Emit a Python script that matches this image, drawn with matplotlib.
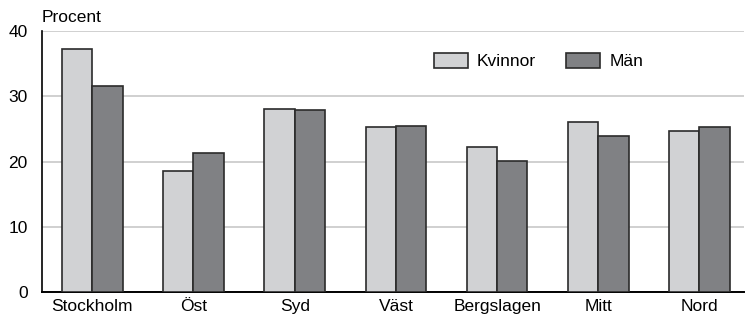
import numpy as np
import matplotlib
matplotlib.use("Agg")
import matplotlib.pyplot as plt

# andel i procent per region
regioner = ["Stockholm", "Öst", "Syd", "Väst", "Bergslagen", "Mitt", "Nord"]
kvinnor = [37.2, 18.5, 28.0, 25.2, 22.2, 26.0, 24.7]
man = [31.6, 21.3, 27.9, 25.4, 20.1, 23.9, 25.2]

plt.rcParams['font.family'] = ['Liberation Sans', 'DejaVu Sans']
plt.rcParams['font.size'] = 12

fig = plt.figure(figsize=(7.46, 3.17), dpi=100)
ax = fig.add_axes([41.7 / 746, 1 - 292.3 / 317, (744 - 41.7) / 746, (292.3 - 30.7) / 317])

x = np.arange(len(regioner))
w = 0.30
ax.bar(x - w / 2, kvinnor, w, color="#d1d2d4", edgecolor="#2b2b2b", linewidth=1.2,
       label="Kvinnor", zorder=3)
ax.bar(x + w / 2, man, w, color="#808184", edgecolor="#2b2b2b", linewidth=1.2,
       label="Män", zorder=3)

ax.set_xlim(-0.5, 6.44)
ax.set_ylim(0, 40)
ax.set_yticks([0, 10, 20, 30, 40])
ax.set_xticks(x)
ax.set_xticklabels(regioner)
ax.yaxis.grid(True, color="#c8c8c8", linewidth=1.2, zorder=0)
ax.set_axisbelow(True)
ax.tick_params(axis="both", length=0, labelsize=12.5)
ax.tick_params(axis="y", pad=10)
ax.tick_params(axis="x", pad=5)

for s in ["top", "right"]:
    ax.spines[s].set_visible(False)
ax.spines["left"].set_linewidth(1.2)
ax.spines["bottom"].set_linewidth(1.4)

fig.text(41.7 / 746, 1 - 17 / 317, "Procent", ha="left", va="center", fontsize=12.5)

ax.legend(loc="upper left", bbox_to_anchor=(425 / 746, 1 - 44 / 317),
          bbox_transform=fig.transFigure, ncol=2, frameon=False,
          handlelength=2.0, handleheight=0.95, handletextpad=0.5,
          columnspacing=1.7, borderpad=0, fontsize=12.5)

fig.savefig("out.png", dpi=100)
